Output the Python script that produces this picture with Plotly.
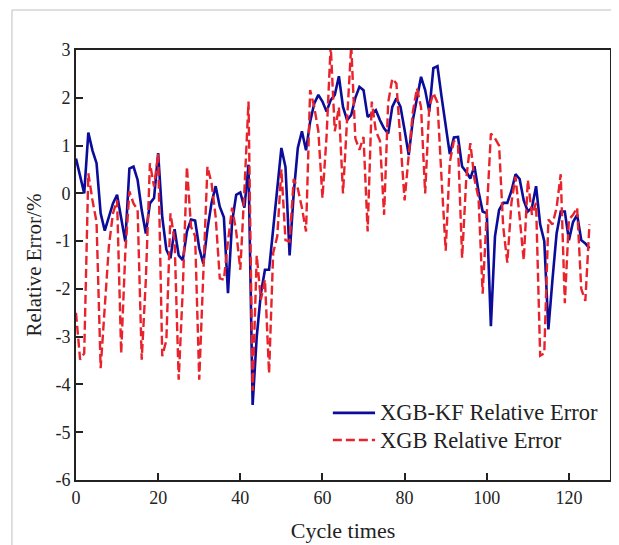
import plotly.graph_objects as go

# Cycle index
cycles = list(range(126))

# XGB-KF relative error (%)
xgb_kf = [
    0.73, 0.35, 0.0, 1.27, 0.9, 0.63, -0.42, -0.78, -0.49, -0.21,
    -0.03, -0.56, -1.01, 0.52, 0.56, 0.28, -0.35, -0.84, -0.21, -0.1,
    0.84, -0.5, -1.18, -1.36, -0.75, -1.3, -1.4, -0.8, -0.55, -0.57,
    -1.15, -1.47, -0.75, -0.2, 0.15, -0.28, -0.5, -2.09, -0.6, -0.03,
    0.02, -0.3, 0.6, -4.43, -3.0, -2.1, -1.6, -1.6, -0.7, 0.07,
    0.95, 0.55, -1.3, 0.0, 0.95, 1.3, 0.9, 1.5, 1.88, 2.06,
    1.92, 1.71, 1.95, 2.06, 2.45, 1.81, 1.53, 1.64, 2.0, 2.23,
    2.16, 1.6, 1.67, 1.74, 1.53, 1.36, 1.25, 1.81, 1.99, 1.81,
    1.32, 0.80, 1.53, 2.02, 2.44, 2.16, 1.71, 2.62, 2.66, 2.02,
    1.46, 0.82, 1.17, 1.18, 0.56, 0.45, 0.31, 0.57, 0.04, -0.38,
    -0.42, -2.78, -0.9, -0.35, -0.2, -0.2, 0.05, 0.4, 0.3, -0.15,
    -0.38, -0.3, 0.15, -0.65, -1.0, -2.85, -1.8, -0.84, -0.38, -0.38,
    -0.98, -0.6, -0.45, -0.98, -1.05, -1.15,
]

# XGB relative error (%)
xgb = [
    -2.5, -3.48, -3.35, 0.42, -0.14, -0.6, -3.66, -2.37, -1.11, -0.42,
    -0.14, -3.35, -1.25, 0.04, -0.21, -0.35, -3.48, -1.81, 0.63, 0.14,
    0.83, -3.41, -3.07, -0.42, -0.98, -3.9, -2.0, 0.56, -0.7, -0.9,
    -3.9, -1.67, 0.56, 0.21, -0.49, -1.78, -1.81, -1.0, -0.3, -0.8,
    -1.6, 0.07, 1.92, -4.13, -1.3, -2.23, -1.81, -3.77, -1.25, -0.9,
    0.5, -0.98, -1.01, 0.3, 0.1, -0.3, -0.8, 2.16, 1.81, 1.3,
    -0.1, 1.2, 3.1, 1.3, 1.8, 0.0, 1.46, 3.1, 1.15, 0.91,
    1.18, -0.8, 1.92, 1.3, 1.1, -0.45, 1.9, 2.4, 2.3, 1.1,
    -0.15, 0.8, 1.7, 2.2, 1.8, 0.0, 1.8, 2.1, 1.9, 0.3,
    -1.2, 0.65, 1.1, 1.0, -1.35, 0.3, 1.05, 0.3, -0.1, -2.1,
    -0.4, 1.25, 1.15, 1.0, -0.7, -1.45, -0.2, 0.35, -0.5, -1.4,
    0.28, -0.45, -0.2, -3.4, -3.35, -0.55, -0.65, -0.3, 0.4, -2.3,
    -0.55, -0.45, -0.3, -2.0, -2.25, -0.65,
]

series_names = ["XGB-KF Relative Error", "XGB Relative Error"]

x_ticks = [0, 20, 40, 60, 80, 100, 120]
y_ticks = [-6, -5, -4, -3, -2, -1, 0, 1, 2, 3]
y_tick_labels = ["-6", "-5", "-4", "-3", "-2", "-1", "0", "1", "2", "3"]

serif = "Liberation Serif, Times New Roman, serif"
ink = "#222222"
blue = "#0c0c9a"
red = "#e8232b"
red_dash = "9px,4px"

fig = go.Figure()

fig.add_trace(go.Scatter(
    x=cycles, y=xgb_kf,
    mode="lines",
    name=series_names[0],
    line=dict(color=blue, width=2.6),
))

fig.add_trace(go.Scatter(
    x=cycles, y=xgb,
    mode="lines",
    name=series_names[1],
    line=dict(color=red, width=2.4, dash=red_dash),
))

axis_common = dict(
    showgrid=False,
    zeroline=False,
    showline=True,
    linecolor=ink,
    linewidth=2,
    mirror=True,
    ticks="inside",
    ticklen=7,
    tickwidth=1.5,
    tickcolor=ink,
    automargin=False,
    tickfont=dict(family=serif, size=18, color=ink),
)

fig.update_xaxes(
    range=[0, 130],
    tickvals=x_ticks,
    title=dict(text="Cycle times", font=dict(family=serif, size=22, color=ink), standoff=16),
    **axis_common,
)
fig.update_yaxes(
    range=[-6, 3],
    tickvals=y_ticks,
    ticktext=y_tick_labels,
    title=dict(text="Relative Error/%", font=dict(family=serif, size=21, color=ink), standoff=8),
    **axis_common,
)

# hand-drawn legend (longer key lines than plotly's own legend)
legend_rows = [
    (series_names[0], 0.156, dict(color=blue, width=2.6)),
    (series_names[1], 0.093, dict(color=red, width=2.4, dash=red_dash)),
]
for label, ly, style in legend_rows:
    fig.add_shape(type="line", xref="paper", yref="paper",
                  x0=0.481, x1=0.560, y0=ly, y1=ly, line=style)
    fig.add_annotation(xref="paper", yref="paper", x=0.565, y=ly,
                       xanchor="left", yanchor="middle", showarrow=False,
                       text=label, font=dict(family=serif, size=22.5, color=ink))

# light frame of the original figure (left and top edges)
fig.add_shape(type="line", xref="paper", yref="paper",
              x0=-0.12, x1=1.02, y0=1.093, y1=1.093,
              line=dict(color="#d4d4d4", width=1.5))
fig.add_shape(type="line", xref="paper", yref="paper",
              x0=-0.12, x1=-0.12, y0=1.093, y1=-0.16,
              line=dict(color="#d4d4d4", width=1.5))

# the page adds an 8px body margin, so the figure is 8px smaller than the window
fig.update_layout(
    width=611, height=537,
    margin=dict(l=68, r=9, t=42, b=65),
    paper_bgcolor="white",
    plot_bgcolor="white",
    font=dict(family=serif, color=ink),
    showlegend=False,
)

fig.write_html("out.html")
